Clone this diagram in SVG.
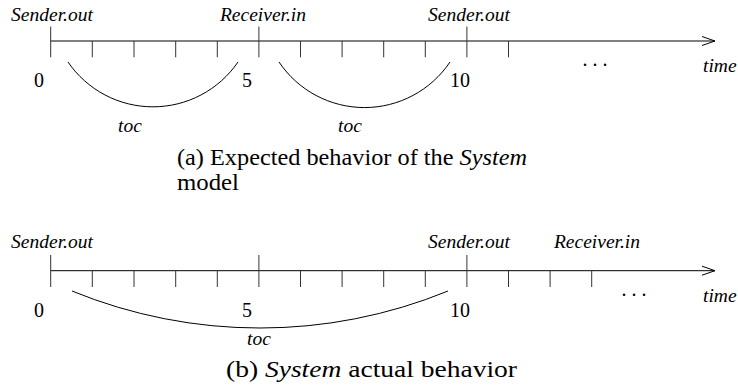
<svg xmlns="http://www.w3.org/2000/svg" width="738" height="388" viewBox="0 0 738 388">
<style>
.ax{stroke:#000;stroke-width:1;fill:none}
.tk{stroke:#333;stroke-width:1;fill:none}
.arc{stroke:#000;stroke-width:1;fill:none}
.lbl{font-family:"Liberation Serif",serif;font-style:italic;font-size:19.5px;fill:#000}
.num{font-family:"Liberation Serif",serif;font-size:20px;fill:#000}
.cap{font-family:"Liberation Serif",serif;font-size:23px;fill:#000}
.it{font-style:italic}
</style>
<rect width="738" height="388" fill="#fff"/>
<g id="timeline-a">
  <g id="axis-a">
    <line class="ax" x1="50.7" y1="41" x2="715" y2="41"/>
    <polyline class="ax" points="702,36.5 715,41 702,45.5"/>
    <path class="tk" d="M50.7 26.5V57.3 M92.3 41V57.3 M134 41V57.3 M175.7 41V57.3 M217.3 41V57.3 M258.9 26.5V57.3 M300.5 41V57.3 M342.1 41V57.3 M383.7 41V57.3 M425.3 41V57.3 M466.9 26.5V57.3 M508.5 41V57.3"/>
  </g>
  <g id="labels-a">
    <text class="lbl" x="52" y="21" text-anchor="middle">Sender.out</text>
    <text class="lbl" x="263" y="21" text-anchor="middle">Receiver.in</text>
    <text class="lbl" x="469" y="21" text-anchor="middle">Sender.out</text>
    <text class="num" x="39" y="87" text-anchor="middle">0</text>
    <text class="num" x="247" y="87" text-anchor="middle">5</text>
    <text class="num" x="460" y="87" text-anchor="middle">10</text>
    <text class="num" x="595" y="66" text-anchor="middle">. . .</text>
    <text class="lbl" x="703" y="72">time</text>
  </g>
  <g id="toc-a1">
    <path class="arc" d="M68 62 A103 103 0 0 0 238 62"/>
    <text class="lbl" x="130" y="132" text-anchor="middle">toc</text>
  </g>
  <g id="toc-a2">
    <path class="arc" d="M279 62 A103 103 0 0 0 450 62"/>
    <text class="lbl" x="350" y="132" text-anchor="middle">toc</text>
  </g>
  <g id="caption-a">
    <text class="cap" x="177" y="165" textLength="350" lengthAdjust="spacingAndGlyphs">(a) Expected behavior of the <tspan class="it">System</tspan></text>
    <text class="cap" x="177" y="190" textLength="62" lengthAdjust="spacingAndGlyphs">model</text>
  </g>
</g>
<g id="timeline-b">
  <g id="axis-b">
    <line class="ax" x1="50.7" y1="270.7" x2="715" y2="270.7"/>
    <polyline class="ax" points="702,266.2 715,270.7 702,275.2"/>
    <path class="tk" d="M50.7 255V287 M92.3 270.7V287 M134 270.7V287 M175.7 270.7V287 M217.3 270.7V287 M258.9 255V287 M300.5 270.7V287 M342.1 270.7V287 M383.7 270.7V287 M425.3 270.7V287 M466.9 255V287 M508.5 270.7V287 M550.1 270.7V287 M591.7 270.7V287"/>
  </g>
  <g id="labels-b">
    <text class="lbl" x="52" y="248" text-anchor="middle">Sender.out</text>
    <text class="lbl" x="469" y="248" text-anchor="middle">Sender.out</text>
    <text class="lbl" x="597" y="248" text-anchor="middle">Receiver.in</text>
    <text class="num" x="39" y="317" text-anchor="middle">0</text>
    <text class="num" x="247" y="317" text-anchor="middle">5</text>
    <text class="num" x="460" y="317" text-anchor="middle">10</text>
    <text class="num" x="634" y="296" text-anchor="middle">. . .</text>
    <text class="lbl" x="703" y="302">time</text>
  </g>
  <g id="toc-b">
    <path class="arc" d="M72 291 A496 496 0 0 0 448 291"/>
    <text class="lbl" x="259" y="345" text-anchor="middle">toc</text>
  </g>
  <g id="caption-b">
    <text class="cap" x="226" y="377" textLength="291" lengthAdjust="spacingAndGlyphs">(b) <tspan class="it">System</tspan> actual behavior</text>
  </g>
</g>
</svg>
